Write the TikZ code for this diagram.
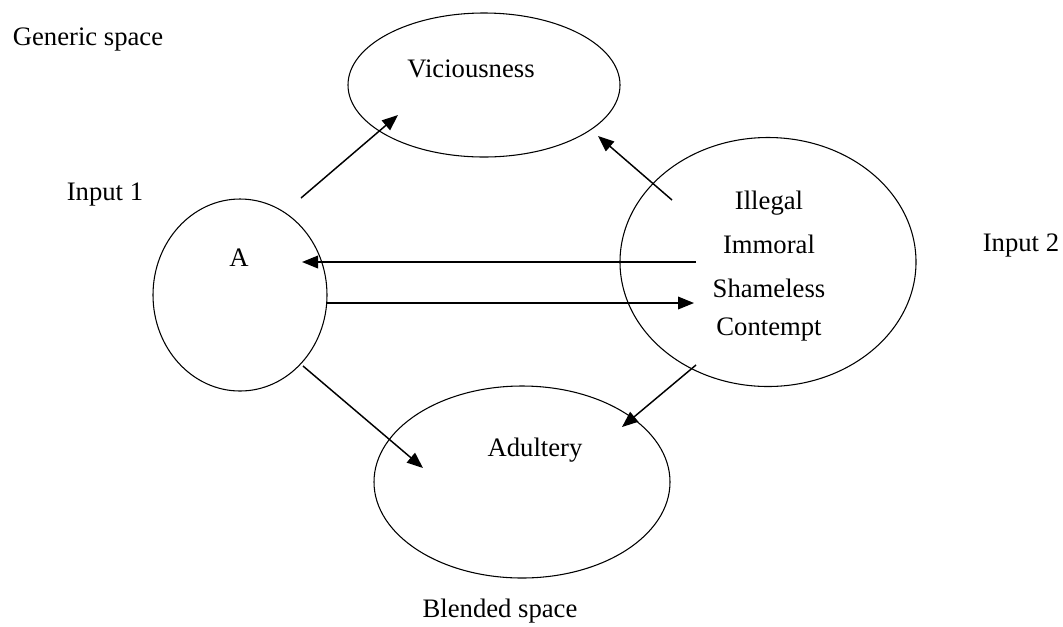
\documentclass[tikz,border=0pt]{standalone}
\usepackage{fontspec}
\setmainfont{Liberation Serif}
\usetikzlibrary{shapes.geometric,arrows.meta}
\begin{document}
\begin{tikzpicture}[x=0.75pt,y=-0.75pt,
  space/.style={draw, ellipse, line width=0.8pt, inner sep=0pt},
  lbl/.style={inner sep=0pt, font=\fontsize{20}{24}\selectfont},
  conn/.style={line width=1.1pt, -{Triangle[length=12pt,width=9.5pt]}}]
\useasboundingbox (0,0) rectangle (1063,626);
% spaces
\node[space, minimum width=204pt, minimum height=108pt] (gen) at (484,85) {};
\node[space, minimum width=130.5pt, minimum height=144pt] (in1) at (240,295) {};
\node[space, minimum width=222pt, minimum height=186.75pt] (in2) at (768,262) {};
\node[space, minimum width=222pt, minimum height=144pt] (bl) at (522,482) {};
% labels
\node[lbl] (tgen) at (88,40) {Generic space};
\node[lbl] (tvic) at (471,69) {Viciousness};
\node[lbl] (tin1) at (105,195) {Input 1};
\node[lbl] (ta) at (239,258) {A};
\node[lbl] (till) at (769,203) {Illegal};
\node[lbl] (timm) at (769,244) {Immoral};
\node[lbl] (tsha) at (769,288) {Shameless};
\node[lbl] (tcon) at (769,330) {Contempt};
\node[lbl] (tin2) at (1021,246) {Input 2};
\node[lbl] (tadu) at (535,450) {Adultery};
\node[lbl] (tbl) at (500,611) {Blended space};
% connector ends
\coordinate (c1s) at (301,198); \coordinate (c1e) at (398,115);
\coordinate (c2s) at (672,200); \coordinate (c2e) at (598,136);
\coordinate (c3s) at (696,262); \coordinate (c3e) at (302,262);
\coordinate (c4s) at (326,303); \coordinate (c4e) at (694,303);
\coordinate (c5s) at (303,366); \coordinate (c5e) at (423,468);
\coordinate (c6s) at (696,365); \coordinate (c6e) at (622,427);
\draw[conn] (c1s) -- (c1e);
\draw[conn] (c2s) -- (c2e);
\draw[conn] (c3s) -- (c3e);
\draw[conn] (c4s) -- (c4e);
\draw[conn] (c5s) -- (c5e);
\draw[conn] (c6s) -- (c6e);
\end{tikzpicture}
\end{document}
